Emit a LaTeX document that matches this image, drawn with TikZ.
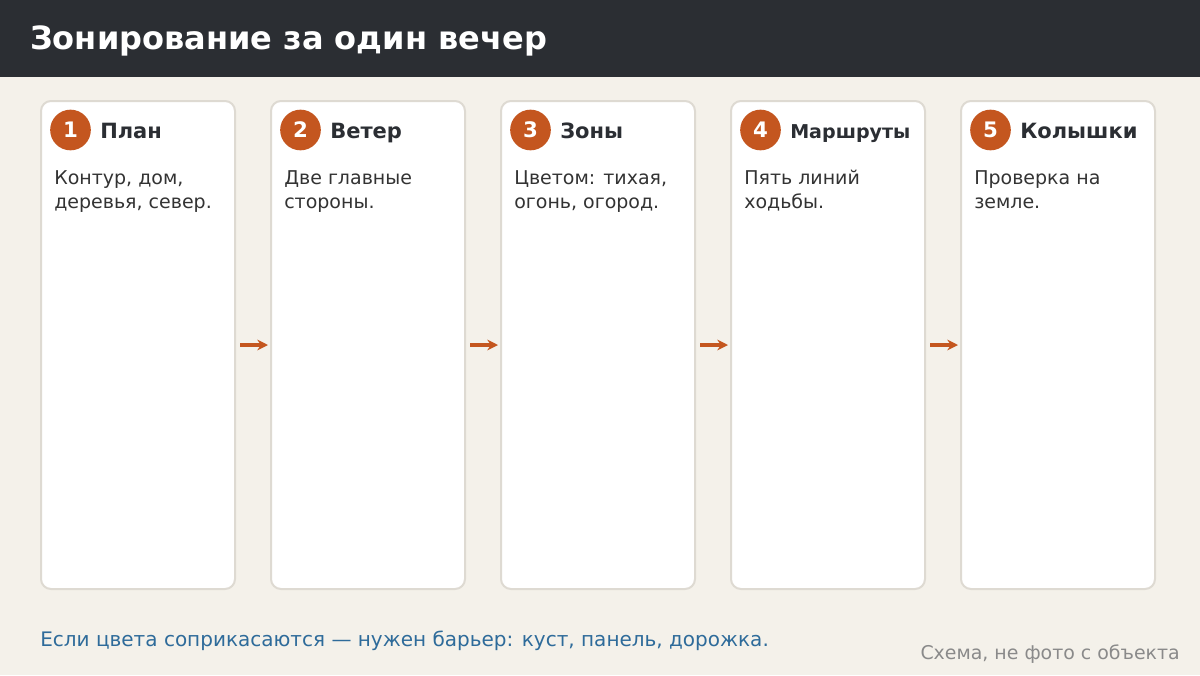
\documentclass[tikz,border=0pt]{standalone}
\usepackage{fontspec}
\setmainfont{DejaVu Sans}
\usetikzlibrary{arrows.meta}
\definecolor{hdr}{HTML}{2B2E33}
\definecolor{bg}{HTML}{F4F1EA}
\definecolor{accent}{HTML}{C4561F}
\definecolor{cardline}{HTML}{DEDAD2}
\definecolor{bodytxt}{HTML}{333333}
\definecolor{footblue}{HTML}{2E6B9A}
\definecolor{footgray}{HTML}{8A8A8A}
\tikzset{
  card/.style={draw=cardline, line width=1.5pt, fill=white, rounded corners=7.5pt,
    minimum width=145.5pt, minimum height=366pt, inner sep=0pt, outer sep=0pt},
  badge/.style={circle, fill=accent, minimum size=30.5pt, inner sep=0pt, outer sep=0pt,
    text=white, font=\bfseries\fontsize{16}{16}\selectfont},
  ctitle/.style={anchor=base west, inner sep=0pt, text=hdr, font=\bfseries\fontsize{15.75}{15.75}\selectfont},
  cbody/.style={anchor=base west, inner sep=0pt, text=bodytxt, align=left,
    font=\fontsize{14.25}{18}\selectfont},
  arr/.style={draw=accent, line width=2.6pt, -{Stealth[length=8pt,width=8pt]},
    shorten <=3.75pt, shorten >=2.25pt},
}
\begin{document}
\begin{tikzpicture}[x=0.75pt,y=-0.75pt]
\useasboundingbox (0,0) rectangle (1200,675);
\fill[bg] (0,0) rectangle (1200,675);
\fill[hdr] (0,0) rectangle (1200,77);
\node[anchor=base west, inner sep=0pt, text=white, font=\bfseries\fontsize{24}{24}\selectfont] (title) at (30,49.5) {Зонирование за один вечер};

\foreach \i/\num/\ttl/\la/\lb [count=\k] in {
  0/1/План/{Контур, дом,}/{деревья, север.},
  1/2/Ветер/{Две главные}/{стороны.},
  2/3/Зоны/{Цветом: тихая,}/{огонь, огород.},
  3/4/{\fontsize{14.3}{14.3}\selectfont Маршруты}/{Пять линий}/{ходьбы.},
  4/5/Колышки/{Проверка на}/{земле.}} {
  \node[card] (c\k) at (138+230*\i,345) {};
  \node[badge] (b\k) at (70.5+230*\i,130) {\num};
  \node[ctitle] (t\k) at (100+230*\i,138.5) {\ttl};
  \node[cbody] (d\k) at (54+230*\i,208) {\la\\\lb};
}
\foreach \a/\b in {1/2,2/3,3/4,4/5} {
  \draw[arr] (c\a.east) -- (c\b.west);
}

\node[anchor=base west, inner sep=0pt, text=footblue, font=\fontsize{15}{15}\selectfont] (note) at (40,646.5) {Если цвета соприкасаются — нужен барьер: куст, панель, дорожка.};
\node[anchor=base east, inner sep=0pt, text=footgray, font=\fontsize{14.2}{14.2}\selectfont] (src) at (1180,659) {Схема, не фото с объекта};
\end{tikzpicture}
\end{document}
